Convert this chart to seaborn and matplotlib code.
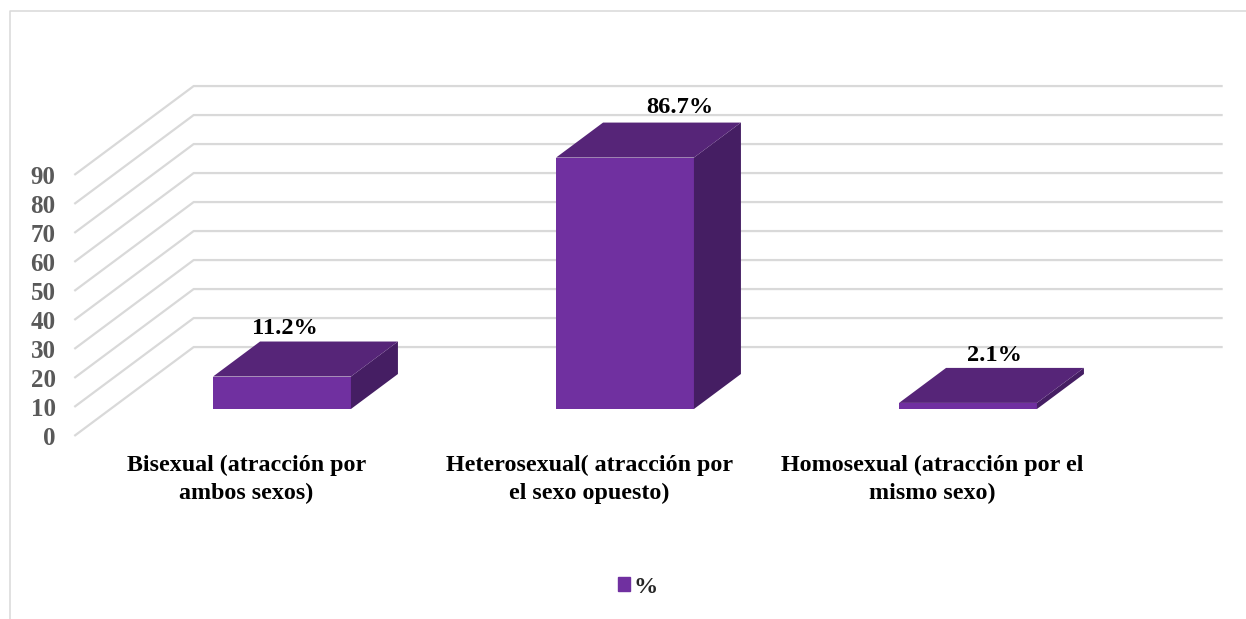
import matplotlib
matplotlib.use("Agg")
import matplotlib.pyplot as plt
import seaborn as sns
from matplotlib.lines import Line2D
from matplotlib.patches import Patch
from matplotlib.transforms import Affine2D

categories = ["Bisexual (atracción por\nambos sexos)",
              "Heterosexual( atracción por\nel sexo opuesto)",
              "Homosexual (atracción por el\nmismo sexo)"]
values = [11.2, 86.7, 2.1]
value_labels = ["11.2%", "86.7%", "2.1%"]
y_ticks = [0, 10, 20, 30, 40, 50, 60, 70, 80, 90]
series_name = "%"

# styling and layout (pixels of a 1246x619 canvas)
W, H = 1246, 619
FRONT, TOP, SIDE = "#7030A0", "#562578", "#451E63"
GRID, FRAME, TICK = "#D9D9D9", "#D9D9D9", "#595959"
PX_CAT, PX_UNIT = 343.0, 2.9        # pixels per category / per value unit
DEPTH_X, DEPTH_Y = 47.0, 35.0       # oblique offset of the bar depth
WALL_FRONT, WALL_BACK = -0.77, 1.77 # depth of the front edge and back wall
label_shift = [(3, 13), (55, 15), (26, 12)]  # label centre relative to bar

sns.set_theme(style="white")
plt.rcParams["font.family"] = ["Liberation Serif", "DejaVu Serif"]
plt.rcParams["font.weight"] = "bold"

fig = plt.figure(figsize=(W / 100, H / 100), dpi=100, facecolor="white")
ax = fig.add_axes([110.5 / W, (H - 409) / H, PX_CAT * 3 / W, PX_UNIT * 100 / H])
ax.patch.set_alpha(0)

sns.barplot(x=categories, y=values, ax=ax, color=FRONT, saturation=1,
            width=0.402, zorder=3, linewidth=0)
ax.set_xlim(-0.5, 2.5)
ax.set_ylim(0, 100)
sns.despine(ax=ax, left=True, bottom=True)


def project(x, v, d):
    """Category/value/depth to data coordinates of the oblique view."""
    return x + d * DEPTH_X / PX_CAT, v + d * DEPTH_Y / PX_UNIT


# walls: one bent gridline per tick
for v in y_ticks:
    pts = [project(-0.5, v, WALL_FRONT), project(-0.5, v, WALL_BACK), project(2.5, v, WALL_BACK)]
    ax.plot(*zip(*pts), color=GRID, lw=1.6, clip_on=False, zorder=1, solid_capstyle="butt")

# depth faces of each bar, and value labels
for bar, txt, (sx, sy) in zip(ax.patches, value_labels, label_shift):
    x0, x1, v = bar.get_x(), bar.get_x() + bar.get_width(), bar.get_height()
    top = [project(x0, v, 0), project(x1, v, 0), project(x1, v, 1), project(x0, v, 1)]
    side = [project(x1, 0, 0), project(x1, v, 0), project(x1, v, 1), project(x1, 0, 1)]
    ax.fill(*zip(*side), color=SIDE, lw=0, clip_on=False, zorder=4)
    ax.fill(*zip(*top), color=TOP, lw=0, clip_on=False, zorder=5)
    lx, ly = project((x0 + x1) / 2 + sx / PX_CAT, v + sy / PX_UNIT, 1)
    ax.text((x0 + x1) / 2 + sx / PX_CAT, ly, txt, ha="center", va="center",
            fontsize=17.6, fontweight="bold", color="black", zorder=6, clip_on=False)

# axis labels, slid onto the front edge of the floor
ax.set_yticks(y_ticks, [str(t) for t in y_ticks])
ax.tick_params(axis="y", length=0, pad=0, labelsize=18, labelcolor=TICK)
ax.tick_params(axis="x", length=0, pad=0, labelsize=17.3, labelcolor="black")
for lab in ax.get_yticklabels():
    lab.set_fontweight("bold")
    lab.set_transform(lab.get_transform() + Affine2D().translate(-55, -27))
for lab in ax.get_xticklabels():
    lab.set_fontweight("bold")
    lab.set_linespacing(1.4)
    lab.set_transform(lab.get_transform() + Affine2D().translate(-35.5, -46))

ax.legend(handles=[Patch(color=FRONT, label=series_name)], loc="center",
          bbox_to_anchor=(638 / W, 1 - 587.5 / H), bbox_transform=fig.transFigure,
          frameon=False, handlelength=0.5, handleheight=0.5,
          handletextpad=0.15, prop={"size": 17.6, "weight": "bold"})

# chart frame
fig.add_artist(Line2D([9.5 / W, 9.5 / W, 1], [0, 1 - 10.5 / H, 1 - 10.5 / H],
                      color=FRAME, lw=1.1, transform=fig.transFigure))

fig.savefig("out.png", dpi=100)
